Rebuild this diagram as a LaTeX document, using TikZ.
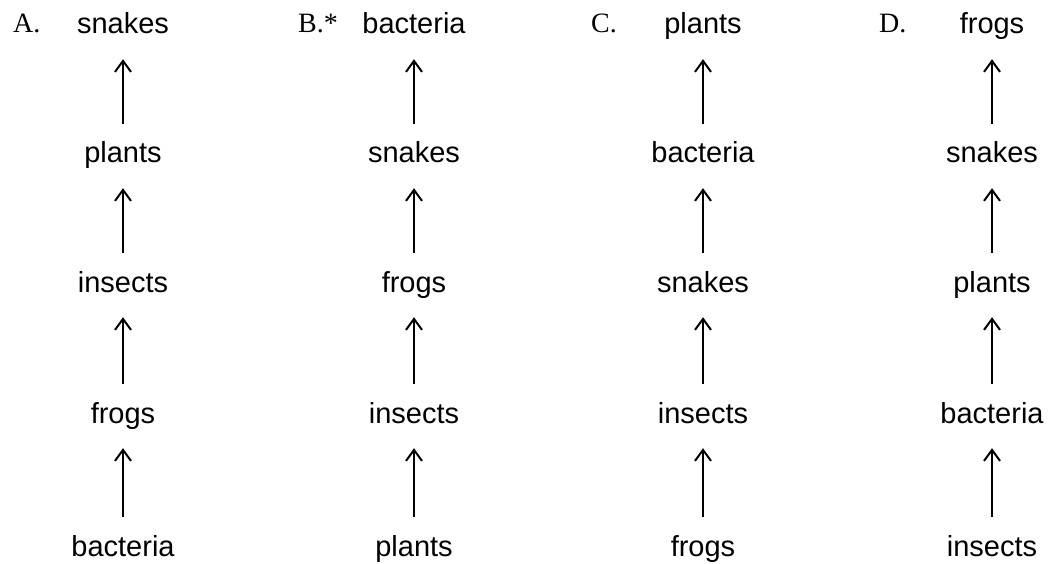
\documentclass[tikz,border=0pt]{standalone}
\usepackage{fontspec}
\setmainfont{Liberation Sans}
\newfontfamily\labelfont{Liberation Serif}
\usetikzlibrary{arrows.meta}
\begin{document}
\begin{tikzpicture}[x=1pt,y=-1pt,
  org/.style={anchor=base,inner sep=0pt,text height=21pt,text depth=6pt,
    font=\fontsize{29}{34}\selectfont},
  opt/.style={anchor=base west,inner sep=0pt,font=\labelfont\fontsize{28}{32}\selectfont},
  eats/.style={-{Straight Barb[length=11pt,width=16pt,line width=2pt]},line width=2.2pt,
    shorten <=18pt,shorten >=19pt}]
\useasboundingbox (0,0) rectangle (1048,564);
% column A
\node[opt] (la) at (13,33) {A.};
\node[org] (a1) at (123,34) {snakes};
\node[org] (a2) at (123,163) {plants};
\node[org] (a3) at (123,292) {insects};
\node[org] (a4) at (123,423) {frogs};
\node[org] (a5) at (123,556) {bacteria};
% column B
\node[opt] (lb) at (298,33) {B.*};
\node[org] (b1) at (414,34) {bacteria};
\node[org] (b2) at (414,163) {snakes};
\node[org] (b3) at (414,292) {frogs};
\node[org] (b4) at (414,423) {insects};
\node[org] (b5) at (414,556) {plants};
% column C
\node[opt] (lc) at (591,33) {C.};
\node[org] (c1) at (703,34) {plants};
\node[org] (c2) at (703,163) {bacteria};
\node[org] (c3) at (703,292) {snakes};
\node[org] (c4) at (703,423) {insects};
\node[org] (c5) at (703,556) {frogs};
% column D
\node[opt] (ld) at (879,33) {D.};
\node[org] (d1) at (992,34) {frogs};
\node[org] (d2) at (992,163) {snakes};
\node[org] (d3) at (992,292) {plants};
\node[org] (d4) at (992,423) {bacteria};
\node[org] (d5) at (992,556) {insects};
\foreach \c in {a,b,c,d}{
  \draw[eats] (\c2.north) -- (\c1.south);
  \draw[eats] (\c3.north) -- (\c2.south);
  \draw[eats] (\c4.north) -- (\c3.south);
  \draw[eats] (\c5.north) -- (\c4.south);
}
\end{tikzpicture}
\end{document}
